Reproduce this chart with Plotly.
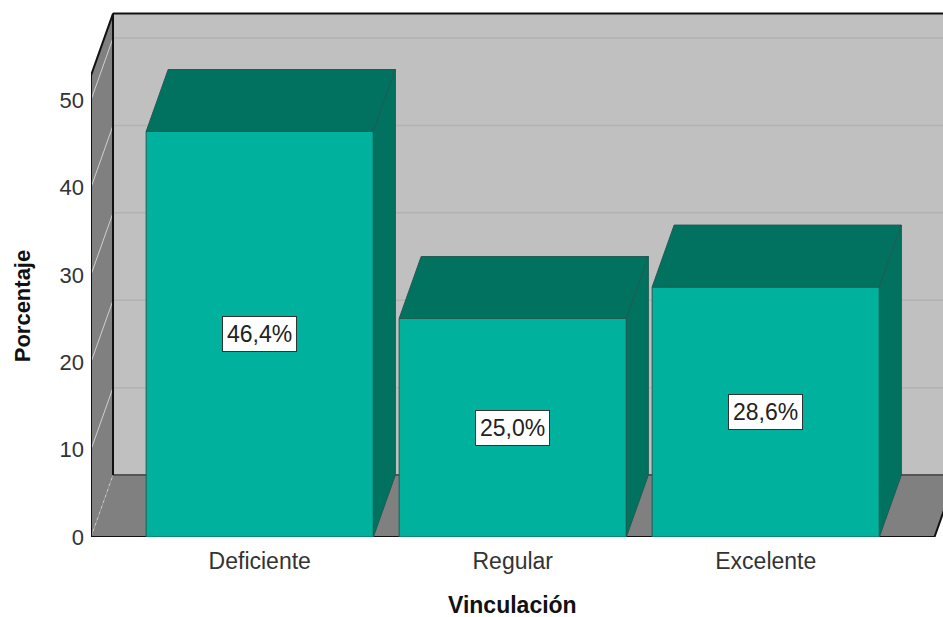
import plotly.graph_objects as go

# -----------------------------
# Data
# -----------------------------
categories = ["Deficiente", "Regular", "Excelente"]
percentages = [46.4, 25.0, 28.6]
value_labels = ["46,4%", "25,0%", "28,6%"]
y_ticks = [0, 10, 20, 30, 40, 50]

# -----------------------------
# 3D look (style only)
# -----------------------------
AXIS_MAX = 52.8          # top of the value axis
DX, DY = 0.087, 7.09     # depth offset (x in category units, y in value units)
HALF_W = 0.449           # half bar width
X_LEFT, X_RIGHT = -0.667, 2.667

FRONT = "#00b29e"
DARK = "#00725f"
EDGE = "#1f5c53"
BACK_WALL = "#c0c0c0"
SIDE_WALL = "#808080"
FONT = "Liberation Sans, Arial, sans-serif"


def poly(fig, xs, ys, fill, line_color=None, width=0):
    fig.add_trace(go.Scatter(
        x=xs + [xs[0]], y=ys + [ys[0]], mode="lines", fill="toself",
        fillcolor=fill, line=dict(color=line_color or fill, width=width),
        hoverinfo="skip", showlegend=False,
    ))


def seg(fig, xs, ys, color, width=1, dash="solid"):
    fig.add_trace(go.Scatter(
        x=xs, y=ys, mode="lines", line=dict(color=color, width=width, dash=dash),
        hoverinfo="skip", showlegend=False,
    ))


fig = go.Figure()

# walls and floor
top = AXIS_MAX + DY
poly(fig, [X_LEFT + DX, X_LEFT + DX, X_RIGHT + DX, X_RIGHT + DX], [DY, top, top, DY], BACK_WALL)
poly(fig, [X_LEFT, X_LEFT, X_LEFT + DX, X_LEFT + DX], [0, AXIS_MAX, top, DY], SIDE_WALL)
poly(fig, [X_LEFT, X_RIGHT, X_RIGHT + DX, X_LEFT + DX], [0, 0, DY, DY], SIDE_WALL)

# gridlines
for v in y_ticks[1:]:
    seg(fig, [X_LEFT + DX, X_RIGHT + DX], [v + DY, v + DY], "#b2b2b2", 1.5)
    seg(fig, [X_LEFT, X_LEFT + DX], [v, v + DY], "#cfcfcf", 1)
seg(fig, [X_LEFT, X_LEFT + DX], [0, DY], "#c8c8c8", 1, "dot")

# frame edges
seg(fig, [X_LEFT + DX, X_RIGHT + DX], [DY, DY], "#555555", 2)
seg(fig, [X_LEFT + DX, X_LEFT + DX], [DY, top], "#111111", 2)
seg(fig, [X_LEFT + DX, X_RIGHT + DX], [top, top], "#111111", 2)
seg(fig, [X_LEFT, X_LEFT, X_LEFT + DX], [0, AXIS_MAX, top], "#111111", 2)
seg(fig, [X_LEFT, X_RIGHT, X_RIGHT + DX], [0, 0, DY], "#111111", 2)

# bars
for i, v in enumerate(percentages):
    x0, x1 = i - HALF_W, i + HALF_W
    poly(fig, [x0, x1, x1, x0], [0, 0, v, v], FRONT, EDGE, 1)
    poly(fig, [x0, x1, x1 + DX, x0 + DX], [v, v, v + DY, v + DY], DARK, EDGE, 1)
    poly(fig, [x1, x1 + DX, x1 + DX, x1], [0, DY, v + DY, v], DARK, EDGE, 1)
    fig.add_annotation(
        x=i, y=v / 2, text=value_labels[i], showarrow=False,
        font=dict(family=FONT, size=23, color="#222222"),
        bgcolor="white", bordercolor="#333333", borderwidth=1, borderpad=4,
    )

# axis titles
fig.add_annotation(
    x=1, y=0, xref="x", yref="paper", yshift=-68, xanchor="center", yanchor="middle",
    text="<b>Vinculación</b>",
    showarrow=False, font=dict(family=FONT, size=23, color="#111111"),
)
fig.add_annotation(
    x=0, xref="paper", xshift=-69, y=AXIS_MAX / 2, yref="y",
    xanchor="center", yanchor="middle", text="<b>Porcentaje</b>",
    textangle=-90, showarrow=False, font=dict(family=FONT, size=22, color="#111111"),
)

# -----------------------------
# Layout
# -----------------------------
fig.update_layout(
    width=943, height=617,
    margin=dict(l=91, r=0, t=12, b=80, autoexpand=False),
    plot_bgcolor="white", paper_bgcolor="white",
    showlegend=False,
)
fig.update_xaxes(
    range=[X_LEFT, X_LEFT + 852 / 253], tickvals=[0, 1, 2], ticktext=categories,
    showgrid=False, zeroline=False, showline=False, ticks="", automargin=False,
    ticklabelstandoff=8,
    tickfont=dict(family=FONT, size=23, color="#333333"), fixedrange=True,
)
fig.update_yaxes(
    range=[0, 60.07], tickvals=y_ticks,
    showgrid=False, zeroline=False, showline=False, ticks="", ticklabelstandoff=6,
    automargin=False,
    tickfont=dict(family=FONT, size=22, color="#333333"), fixedrange=True,
)

# drop the browser's default body margin so the figure fills the window
fig.write_html(
    "out.html",
    config={"displayModeBar": False},
    post_script="document.body.style.margin='0';document.body.style.overflow='hidden';",
)
